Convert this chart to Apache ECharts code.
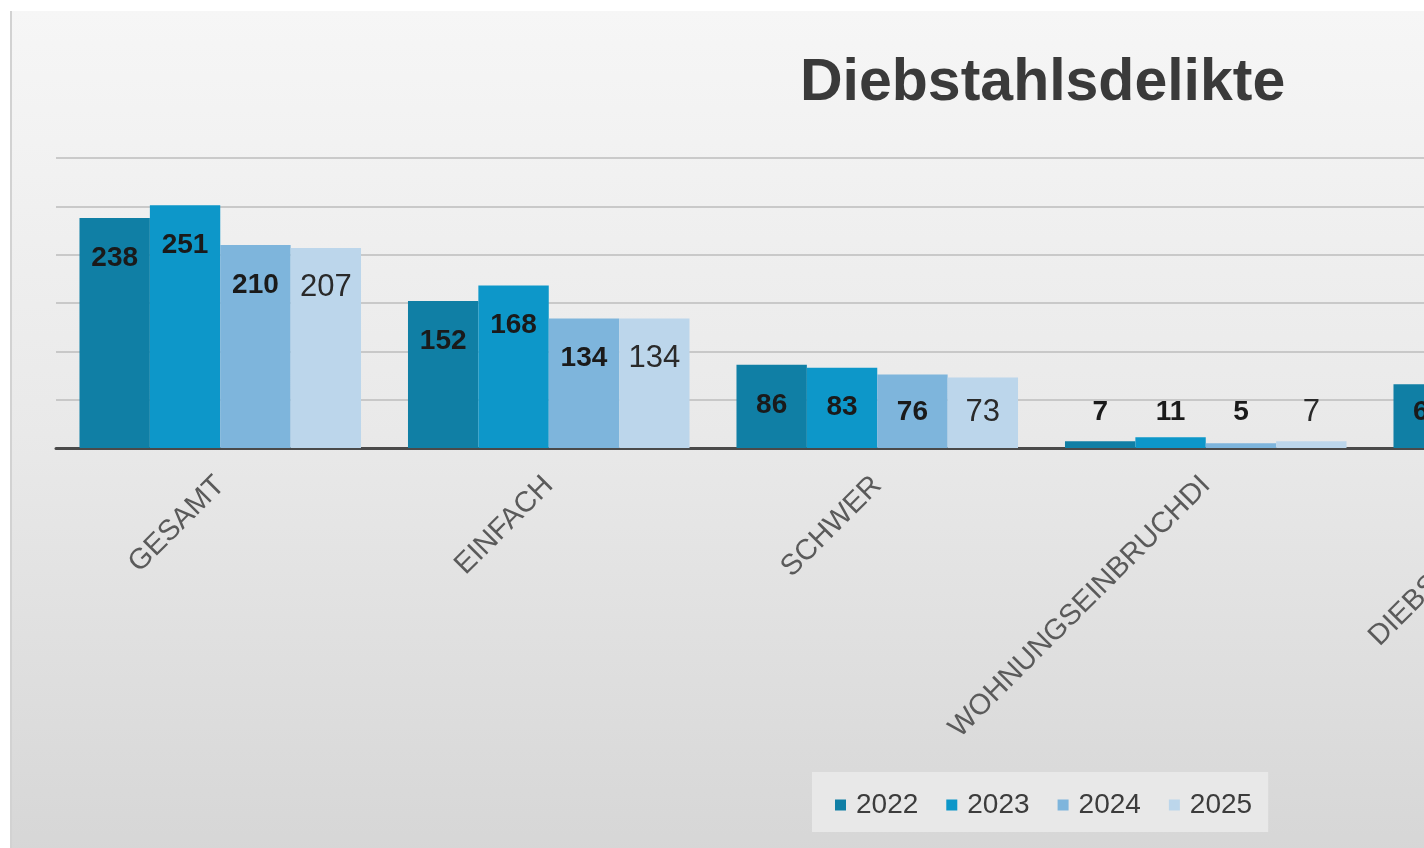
<!DOCTYPE html>
<html>
<head>
<meta charset="utf-8">
<script src="https://cdn.jsdelivr.net/npm/echarts@6/dist/echarts.min.js"></script>
<style>
  html, body { margin: 0; padding: 0; background: #ffffff; overflow: hidden; width: 1424px; height: 848px; }
  #chart { width: 2100px; height: 848px; }
</style>
</head>
<body>
<div id="chart"></div>
<script>
// ---- data ----
const categories = ['GESAMT', 'EINFACH', 'SCHWER', 'WOHNUNGSEINBRUCHDI', 'DIEBSTAHL AUS'];
const years = ['2022', '2023', '2024', '2025'];
const values2022 = [238, 152, 86, 7, 66];
const values2023 = [251, 168, 83, 11, null];
const values2024 = [210, 134, 76, 5, null];
const values2025 = [207, 134, 73, 7, null];
const yTicks = [0, 50, 100, 150, 200, 250, 300];

const seriesValues = [values2022, values2023, values2024, values2025];
const colors = ['#107fa5', '#0d97c9', '#7eb5dc', '#bcd6eb'];

const FONT = '"Liberation Sans", Arial, Helvetica, sans-serif';
const gridTop = 158, gridBottomY = 448;
const yMax = yTicks[yTicks.length - 1];
const pxPerUnit = (gridBottomY - gridTop) / yMax;

function makeData(vals, idx) {
  const regular = idx === 3;
  const fs = regular ? 31 : 28;
  return vals.map(v => {
    if (v === null) return null;
    const tall = v * pxPerUnit - 39 >= 36;
    return {
      value: v,
      label: tall
        ? { position: 'insideTop', distance: 40 - fs / 2 }
        : { position: 'insideBottom', distance: 36 - fs / 2 }
    };
  });
}

const chart = echarts.init(document.getElementById('chart'), null, { renderer: 'canvas' });

const option = {
  animation: false,
  graphic: [
    {
      type: 'rect', z: -10, silent: true,
      shape: { x: 11, y: 11, width: 2100, height: 848 },
      style: {
        fill: new echarts.graphic.LinearGradient(0, 0, 0, 1, [
          { offset: 0, color: '#f6f6f6' },
          { offset: 0.5, color: '#e9e9e9' },
          { offset: 1, color: '#d6d6d6' }
        ])
      }
    },
    {
      type: 'rect', z: -9, silent: true,
      shape: { x: 10, y: 11, width: 2, height: 848 },
      style: { fill: '#d2d2d2' }
    }
  ],
  title: {
    text: 'Diebstahlsdelikte',
    left: 795, top: 49,
    textStyle: { fontFamily: FONT, fontSize: 59, fontWeight: 'bold', color: '#3a3a3a', lineHeight: 59 }
  },
  legend: {
    data: years,
    left: 812, top: 772,
    padding: [19, 16, 13, 23],
    backgroundColor: '#e8e8e8',
    itemWidth: 11, itemHeight: 11, itemGap: 28,
    icon: 'rect',
    textStyle: { fontFamily: FONT, fontSize: 28, color: '#3c3c3c', padding: [0, 0, 0, 5] }
  },
  grid: { left: 56, top: gridTop, right: 2100 - 56 - 328.5 * categories.length, bottom: 848 - gridBottomY, containLabel: false },
  xAxis: {
    type: 'category',
    data: categories,
    axisLine: { show: true, lineStyle: { color: '#4a4a4a', width: 3 } },
    axisTick: { show: false },
    axisLabel: {
      rotate: 45, margin: 33, interval: 0,
      fontFamily: FONT, fontSize: 29, color: '#5a5a5a'
    }
  },
  yAxis: {
    type: 'value',
    min: yTicks[0], max: yMax, interval: 50,
    axisLabel: { show: false },
    axisLine: { show: false },
    axisTick: { show: false },
    splitLine: { show: true, lineStyle: { color: '#bdbdbd', width: 1.5 } }
  },
  series: seriesValues.map((vals, i) => ({
    name: years[i],
    type: 'bar',
    barGap: '0%',
    barCategoryGap: '14.3%',
    data: makeData(vals, i),
    itemStyle: { color: colors[i] },
    label: {
      show: true,
      fontFamily: FONT,
      fontSize: i === 3 ? 31 : 28,
      fontWeight: i === 3 ? 'normal' : 'bold',
      color: i === 3 ? '#2a2a2a' : '#1a1a1a'
    }
  }))
};

chart.setOption(option);
</script>
</body>
</html>
